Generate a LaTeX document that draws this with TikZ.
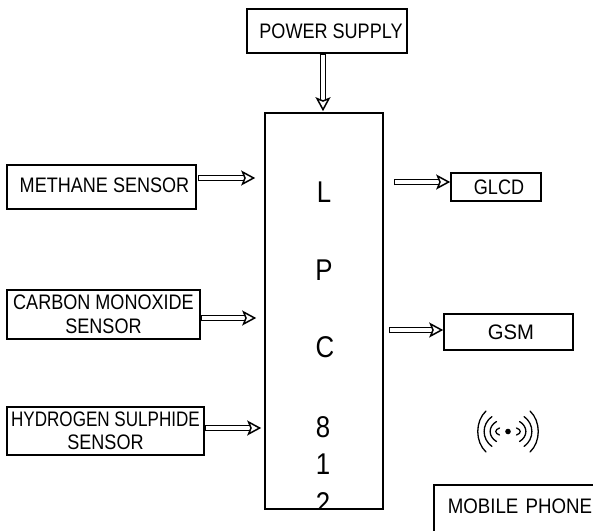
\documentclass[tikz,border=0pt]{standalone}
\usepackage{fontspec}
\setmainfont[FakeStretch=0.86]{Liberation Sans}
\usetikzlibrary{arrows.meta,calc}
\tikzset{
  box/.style={draw=black,line width=1.6pt,fill=white,inner sep=0pt,align=center,
    font=\fontsize{21}{23.5}\selectfont},
  conn/.style={line width=1.5pt,double=white,double distance=3.8pt,
    {Bar[width=6.8pt,line width=1.5pt,sep=0pt]}-{Stealth[fill=white,length=14pt,width=15pt,inset=3pt,line width=1.5pt]}},
  chip/.style={inner sep=0pt,font=\fontsize{30}{30}\selectfont},
  wave/.style={line width=1.3pt,line cap=round}
}
\begin{document}
\begin{tikzpicture}[x=1pt,y=-1pt]
\useasboundingbox (0,0) rectangle (593,530);
\clip (0,0) rectangle (593,530);
\fill[white] (0,0) rectangle (593,530);
% boxes
\node[box,minimum width=160pt,minimum height=44pt] (power) at (327,31) {\hspace*{8pt}POWER SUPPLY};
\node[box,minimum width=118pt,minimum height=396pt] (lpc) at (324,311) {};
\node[box,minimum width=189pt,minimum height=44pt] (meth) at (101.5,187) {\hspace*{6pt}METHANE SENSOR\vphantom{g}};
\node[box,minimum width=193pt,minimum height=49pt] (co) at (103.5,314.5) {CARBON MONOXIDE\\SENSOR};
\node[box,minimum width=197pt,minimum height=48pt] (hs) at (105.5,431) {\scalebox{0.945}[1]{HYDROGEN SULPHIDE}\\SENSOR};
\node[box,minimum width=90pt,minimum height=28pt] (glcd) at (496,187) {\hspace*{6pt}GLCD};
\node[box,minimum width=129pt,minimum height=36pt] (gsm) at (508.5,332) {\hspace*{5pt}\scalebox{1.12}[1]{GSM}};
\node[box,anchor=north west,inner xsep=14pt,text width=200pt,align=left,
      text height=29pt,text depth=51pt] (mobile) at (433,484) {\scalebox{1.035}[1]{MOBILE PHONE}};
% letters inside the controller
\begin{scope}
\clip (265,113) rectangle (383,508.5);
\node[chip] (l1) at (324,192) {L};
\node[chip] (l2) at (324,270) {P};
\node[chip] (l3) at (325,347) {C};
\node[chip] (l4) at (323,427) {8};
\node[chip] (l5) at (323,464) {1};
\node[chip] (l6) at (323,503) {2};
\end{scope}
% connectors
\draw[conn] ([xshift=-4pt]power.south) -- ([xshift=-4pt,yshift=1pt]power.south |- lpc.north);
\draw[conn,shorten >=9pt] ([shift={(1pt,9pt)}]meth.east) -- ([yshift=9pt]meth.east -| lpc.west);
\draw[conn,shorten >=8pt] ([yshift=-3.5pt]co.east) -- ([yshift=-3.5pt]co.east -| lpc.west);
\draw[conn,shorten >=3pt] ([yshift=3pt]hs.east) -- ([yshift=3pt]hs.east -| lpc.west);
\draw[conn,shorten <=10pt] ([yshift=5pt]glcd.west -| lpc.east) -- ([yshift=5pt]glcd.west);
\draw[conn,shorten <=5pt] ([yshift=2pt]gsm.west -| lpc.east) -- ([yshift=2pt]gsm.west);
% wireless symbol
\coordinate (ant) at (508,431.5);
\fill (ant) circle (2.8pt);
\foreach \ox/\ix/\h in {29/22/20.5, 22.5/16/15, 16/11.5/10, 9.5/8.5/3.5}{
  \draw[wave] ($(ant)+(-\ix,-\h)$) .. controls ($(ant)+(-\ox-4,-\h/2)$) and ($(ant)+(-\ox-4,\h/2)$) .. ($(ant)+(-\ix,\h)$);
  \draw[wave] ($(ant)+(\ix,-\h)$) .. controls ($(ant)+(\ox+4,-\h/2)$) and ($(ant)+(\ox+4,\h/2)$) .. ($(ant)+(\ix,\h)$);
}
\end{tikzpicture}
\end{document}
